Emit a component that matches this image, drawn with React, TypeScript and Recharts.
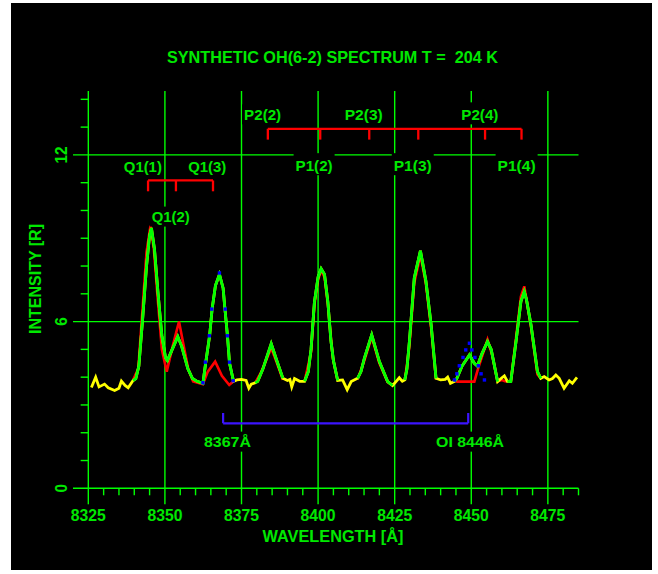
import { ComposedChart, Line, XAxis, YAxis, ReferenceLine, ReferenceDot } from "recharts";

const GREEN = "#00ff00";
const TEXT_GREEN = "#00e800";
const RED = "#ff0000";
const YELLOW = "#ffff00";
const BLUE = "#0000ff";
const BRACKET_BLUE = "#3c14ff";
const FONT = '"Liberation Sans", Arial, sans-serif';

// observed spectrum: [wavelength Å, intensity R]
const observed: [number, number][] = [
  [8326.0, 3.63], [8327.4, 4.0], [8328.5, 3.65], [8330.3, 3.75], [8331.5, 3.62],
  [8333.6, 3.52], [8335.0, 3.6], [8335.8, 3.86], [8337.0, 3.7], [8338.0, 3.62],
  [8339.6, 3.88], [8340.5, 3.95], [8341.5, 4.4], [8342.8, 6.2], [8344.0, 8.0],
  [8345.0, 9.1], [8345.6, 9.37], [8346.6, 8.6], [8347.7, 7.1], [8349.0, 5.5],
  [8350.2, 4.7], [8350.8, 4.6], [8352.0, 4.9], [8354.2, 5.46], [8355.5, 5.1],
  [8357.5, 4.3], [8359.0, 3.95], [8360.5, 3.85], [8362.4, 3.78], [8363.3, 4.5],
  [8364.6, 5.5], [8365.4, 6.45], [8366.5, 7.3], [8367.8, 7.7], [8369.0, 7.2],
  [8369.6, 6.45], [8370.4, 5.5], [8371.1, 4.5], [8372.4, 3.85], [8373.5, 3.9],
  [8375.0, 3.92], [8376.5, 3.88], [8377.4, 3.6], [8378.2, 3.75], [8379.5, 3.8],
  [8380.3, 3.85], [8382.0, 4.3], [8384.7, 5.2], [8386.5, 4.6], [8388.5, 3.96],
  [8390.0, 3.88], [8390.8, 3.92], [8391.4, 3.65], [8392.3, 3.95], [8394.0, 3.85],
  [8395.6, 3.85], [8396.8, 4.2], [8397.7, 5.0], [8398.8, 6.7], [8400.0, 7.6],
  [8401.0, 7.9], [8402.1, 7.7], [8403.2, 6.7], [8404.2, 5.3], [8405.0, 4.6],
  [8406.4, 3.88], [8408.0, 3.9], [8409.5, 3.55], [8410.8, 3.84], [8412.9, 3.96],
  [8414.0, 4.2], [8415.1, 4.68], [8417.5, 5.52], [8420.0, 4.56], [8422.7, 3.84],
  [8424.3, 3.7], [8425.5, 3.85], [8426.5, 3.98], [8427.5, 3.85], [8428.3, 3.9],
  [8429.0, 4.3], [8429.8, 5.28], [8431.4, 7.57], [8433.4, 8.55], [8435.2, 7.45],
  [8436.9, 5.88], [8438.5, 3.96], [8440.0, 3.9], [8441.5, 3.92], [8442.3, 4.0],
  [8443.2, 3.78], [8444.5, 3.85], [8445.3, 3.96], [8447.0, 4.4], [8449.4, 4.8],
  [8451.0, 4.5], [8452.0, 4.4], [8453.5, 4.85], [8455.3, 5.28], [8456.5, 5.0],
  [8458.6, 3.84], [8460.0, 3.98], [8460.8, 4.05], [8461.8, 3.85], [8462.9, 3.84],
  [8464.6, 5.28], [8466.2, 6.72], [8467.3, 7.08], [8468.0, 6.8], [8469.5, 5.88],
  [8471.6, 4.2], [8472.7, 3.96], [8473.8, 4.02], [8475.4, 3.9], [8476.5, 3.95],
  [8477.6, 4.08], [8478.7, 3.96], [8480.3, 3.6], [8482.0, 3.87], [8483.0, 3.78],
  [8484.5, 3.99],
];

// synthetic OH spectrum, null = gap between fitted regions
const synthetic: [number, number | null][] = [
  [8339.6, 3.9], [8341.3, 4.3], [8342.6, 6.3], [8344.0, 8.5], [8345.3, 9.45],
  [8346.4, 8.6], [8347.6, 6.9], [8349.0, 5.0], [8350.6, 4.2], [8352.5, 5.1],
  [8354.6, 6.0], [8356.0, 5.2], [8357.6, 4.3], [8359.2, 3.85], [8362.4, 3.75],
  [8364.0, 4.2], [8366.4, 4.56], [8368.6, 4.05], [8371.0, 3.72], [8372.4, 3.85],
  [8375.0, null],
  [8379.5, 3.8], [8381.5, 4.2], [8384.7, 5.05], [8386.6, 4.5], [8388.5, 3.9],
  [8392.0, null],
  [8395.6, 3.85], [8397.7, 4.9], [8398.8, 6.6], [8400.0, 7.5], [8401.0, 7.85],
  [8402.1, 7.6], [8403.2, 6.6], [8404.8, 4.7], [8406.4, 3.85],
  [8410.0, null],
  [8412.9, 3.92], [8415.1, 4.6], [8417.5, 5.45], [8420.0, 4.5], [8422.7, 3.82],
  [8424.3, 3.72],
  [8426.0, null],
  [8428.3, 3.88], [8429.8, 5.1], [8431.4, 7.4], [8433.4, 8.4], [8435.2, 7.35],
  [8436.9, 5.75], [8438.5, 3.92],
  [8441.0, null],
  [8444.5, 3.86], [8445.5, 3.84], [8451.0, 3.84], [8452.2, 4.3], [8455.3, 5.35],
  [8456.8, 4.8], [8458.6, 3.85], [8460.0, 3.9], [8461.0, 3.85], [8462.9, 3.84],
  [8464.6, 5.4], [8466.2, 6.9], [8467.3, 7.27], [8469.5, 5.8], [8471.6, 4.1],
  [8472.7, 3.95],
];

// wavelength windows where the observed data is drawn in green
const fitWindows: [number, number][] = [
  [8339.6, 8372.4], [8379.5, 8389.0], [8395.6, 8406.4], [8412.9, 8424.3],
  [8428.3, 8438.5], [8444.5, 8458.6], [8461.8, 8472.7],
];

// points excluded from the fit (blue)
const excluded8367: [number, number][] = [
  [8362.4, 3.8], [8363.2, 4.54], [8364.5, 5.49], [8365.3, 6.45], [8367.8, 7.75],
  [8369.7, 6.45], [8370.4, 5.49], [8371.1, 4.54], [8372.3, 3.87],
];
const excludedOI: [number, number][] = [
  [8444.5, 3.9], [8445.3, 4.12], [8446.1, 4.41], [8447.3, 4.71], [8448.2, 4.98],
  [8449.4, 5.22], [8450.2, 4.98], [8451.2, 4.71], [8452.3, 4.41], [8453.2, 4.12],
  [8454.3, 3.9],
];

const majorTicks = [8325, 8350, 8375, 8400, 8425, 8450, 8475];
const minorTicks = [
  8325, 8330, 8335, 8340, 8345, 8350, 8355, 8360, 8365, 8370, 8375, 8380, 8385,
  8390, 8395, 8400, 8405, 8410, 8415, 8420, 8425, 8430, 8435, 8440, 8445, 8450,
  8455, 8460, 8465, 8470, 8475, 8480, 8485,
];
const yTicks = [0, 6, 12];
const yMinor = [1, 2, 3, 4, 5, 7, 8, 9, 10, 11, 13, 14];

// branch markers
const qBranch = [8344.5, 8353.6, 8365.7];
const pBranch = [8383.6, 8400.7, 8416.7, 8432.7, 8454.5, 8466.4];
const oiBracket = [8369, 8449];
const Q_LEVEL = 11.08;
const P_LEVEL = 12.94;
const OI_LEVEL = 2.34;
const TICK_DEPTH = 0.39;

const lineLabels = [
  { text: "Q1(1)", x: 8342.8, y: 11.57, w: 38, up: 10 },
  { text: "Q1(3)", x: 8363.8, y: 11.57, w: 38, up: 10 },
  { text: "Q1(2)", x: 8351.9, y: 9.78, w: 38, up: 10 },
  { text: "P2(2)", x: 8381.9, y: 13.46, w: 37, up: 10 },
  { text: "P2(3)", x: 8414.9, y: 13.46, w: 38, up: 10 },
  { text: "P2(4)", x: 8452.8, y: 13.46, w: 37, up: 12 },
  { text: "P1(2)", x: 8398.7, y: 11.63, w: 37, up: 12 },
  { text: "P1(3)", x: 8430.9, y: 11.63, w: 38, up: 12 },
  { text: "P1(4)", x: 8464.8, y: 11.63, w: 38, up: 12 },
  { text: "8367Å", x: 8370.4, y: 1.68, w: 47, up: 10 },
  { text: "OI 8446Å", x: 8449.6, y: 1.68, w: 68, up: 10 },
];

const inFit = (x: number) => fitWindows.some(([a, b]) => x >= a && x <= b);
const obsData = observed.map(([x, v]) => ({ x, v }));
const fitData = observed.map(([x, v]) => ({ x, v: inFit(x) ? v : null }));
const synData = synthetic.map(([x, v]) => ({ x, v }));
const blueData = [...excluded8367, ...excludedOI].map(([x, v]) => ({ x, v }));

function XTick(props: any) {
  const { x, y, payload } = props;
  const v = payload.value as number;
  const major = majorTicks.includes(v);
  return (
    <g>
      <line x1={x} x2={x} y1={y} y2={y + (major ? 16 : 7)} stroke={GREEN} strokeWidth={1.4} />
      {major && (
        <text
          x={x}
          y={y + 27}
          dy="0.36em"
          textAnchor="middle"
          fill={TEXT_GREEN}
          fontFamily={FONT}
          fontWeight="bold"
          fontSize={17}
          textLength={35}
          lengthAdjust="spacingAndGlyphs"
        >
          {v}
        </text>
      )}
    </g>
  );
}

function YTick(props: any) {
  const { x, y, payload } = props;
  const s = String(payload.value);
  return (
    <text
      x={x}
      y={y}
      dy="0.36em"
      textAnchor="middle"
      transform={`rotate(-90 ${x} ${y})`}
      fill={TEXT_GREEN}
      fontFamily={FONT}
      fontWeight="bold"
      fontSize={17}
      textLength={s.length * 8.5}
      lengthAdjust="spacingAndGlyphs"
    >
      {s}
    </text>
  );
}

function boxLabel(text: string, w: number, up: number) {
  return (p: any) => (
    <g>
      <rect x={p.cx - w / 2 - 2} y={p.cy - up} width={w + 4} height={up + 10} fill="#000" />
      <text
        x={p.cx}
        y={p.cy}
        dy="0.36em"
        textAnchor="middle"
        fill={TEXT_GREEN}
        fontFamily={FONT}
        fontWeight="bold"
        fontSize={15}
        textLength={w}
        lengthAdjust="spacingAndGlyphs"
      >
        {text}
      </text>
    </g>
  );
}

const BlueDot = (p: any) =>
  p.cy == null ? <g key={p.index} /> : (
    <rect key={p.index} x={p.cx - 1.7} y={p.cy - 1.7} width={3.4} height={3.4} fill={BLUE} />
  );

const gridStyle = { stroke: GREEN, strokeWidth: 1.4 };

export default function App() {
  return (
    <div style={{ position: "absolute", left: 0, top: 0, width: 658, height: 574, background: "#fff" }}>
      <div style={{ position: "absolute", left: 11, top: 3, width: 641, height: 567, background: "#000" }} />
      <div style={{ position: "absolute", left: 0, top: 0 }}>
        <ComposedChart
          width={658}
          height={574}
          margin={{ top: 91, right: 79.5, bottom: 45.7, left: 33 }}
        >
          <XAxis
            type="number"
            dataKey="x"
            domain={[8320, 8485]}
            ticks={minorTicks}
            interval={0}
            tickSize={0}
            tickMargin={0}
            tickLine={false}
            axisLine={gridStyle}
            tick={<XTick />}
            height={40}
            allowDataOverflow
          />
          <YAxis
            type="number"
            domain={[0, 14.3]}
            ticks={yTicks}
            width={40}
            tickSize={0}
            tickMargin={12.5}
            tickLine={false}
            axisLine={false}
            tick={<YTick />}
            allowDataOverflow
          />
          {majorTicks.map((t) => (
            <ReferenceLine key={`gx${t}`} x={t} {...gridStyle} />
          ))}
          <ReferenceLine y={6} {...gridStyle} />
          <ReferenceLine y={12} {...gridStyle} />
          {yMinor.map((t) => (
            <ReferenceLine
              key={`ym${t}`}
              segment={[{ x: 8322.5, y: t }, { x: 8325, y: t }]}
              {...gridStyle}
            />
          ))}

          <ReferenceLine
            segment={[{ x: qBranch[0], y: Q_LEVEL }, { x: qBranch[qBranch.length - 1], y: Q_LEVEL }]}
            stroke={RED}
            strokeWidth={2.3}
          />
          {qBranch.map((w) => (
            <ReferenceLine
              key={`q${w}`}
              segment={[{ x: w, y: Q_LEVEL }, { x: w, y: Q_LEVEL - TICK_DEPTH }]}
              stroke={RED}
              strokeWidth={2.3}
            />
          ))}
          <ReferenceLine
            segment={[{ x: pBranch[0], y: P_LEVEL }, { x: pBranch[pBranch.length - 1], y: P_LEVEL }]}
            stroke={RED}
            strokeWidth={2.3}
          />
          {pBranch.map((w) => (
            <ReferenceLine
              key={`p${w}`}
              segment={[{ x: w, y: P_LEVEL }, { x: w, y: P_LEVEL - TICK_DEPTH }]}
              stroke={RED}
              strokeWidth={2.3}
            />
          ))}
          <ReferenceLine
            segment={[{ x: oiBracket[0], y: OI_LEVEL }, { x: oiBracket[1], y: OI_LEVEL }]}
            stroke={BRACKET_BLUE}
            strokeWidth={2.2}
          />
          {oiBracket.map((w) => (
            <ReferenceLine
              key={`oi${w}`}
              segment={[{ x: w, y: OI_LEVEL }, { x: w, y: OI_LEVEL + 0.37 }]}
              stroke={BRACKET_BLUE}
              strokeWidth={2.2}
            />
          ))}

          {lineLabels.map((l) => (
            <ReferenceDot
              key={l.text}
              x={l.x}
              y={l.y}
              r={0}
              ifOverflow="visible"
              shape={boxLabel(l.text, l.w, l.up)}
            />
          ))}

          <Line
            data={synData}
            dataKey="v"
            type="linear"
            stroke={RED}
            strokeWidth={2.6}
            dot={false}
            activeDot={false}
            connectNulls={false}
            isAnimationActive={false}
          />
          <Line
            data={obsData}
            dataKey="v"
            type="linear"
            stroke={YELLOW}
            strokeWidth={2.8}
            dot={false}
            activeDot={false}
            isAnimationActive={false}
          />
          <Line
            data={fitData}
            dataKey="v"
            type="linear"
            stroke={GREEN}
            strokeWidth={2.8}
            dot={false}
            activeDot={false}
            connectNulls={false}
            isAnimationActive={false}
          />
          <Line
            data={blueData}
            dataKey="v"
            type="linear"
            stroke="none"
            strokeWidth={0}
            dot={BlueDot}
            activeDot={false}
            isAnimationActive={false}
          />
        </ComposedChart>
      </div>
      <svg
        width={658}
        height={574}
        style={{ position: "absolute", left: 0, top: 0, pointerEvents: "none" }}
      >
        <text
          x={332.5}
          y={57}
          dy="0.36em"
          textAnchor="middle"
          fill={TEXT_GREEN}
          fontFamily={FONT}
          fontWeight="bold"
          fontSize={17}
          textLength={331}
          lengthAdjust="spacingAndGlyphs"
          style={{ whiteSpace: "pre" }}
        >
          {"SYNTHETIC OH(6-2) SPECTRUM T =  204 K"}
        </text>
        <text
          x={333}
          y={536}
          dy="0.36em"
          textAnchor="middle"
          fill={TEXT_GREEN}
          fontFamily={FONT}
          fontWeight="bold"
          fontSize={17}
          textLength={141}
          lengthAdjust="spacingAndGlyphs"
        >
          WAVELENGTH [Å]
        </text>
        <text
          x={35}
          y={279}
          dy="0.36em"
          textAnchor="middle"
          transform="rotate(-90 35 279)"
          fill={TEXT_GREEN}
          fontFamily={FONT}
          fontWeight="bold"
          fontSize={17}
          textLength={110}
          lengthAdjust="spacingAndGlyphs"
        >
          INTENSITY [R]
        </text>
      </svg>
    </div>
  );
}
